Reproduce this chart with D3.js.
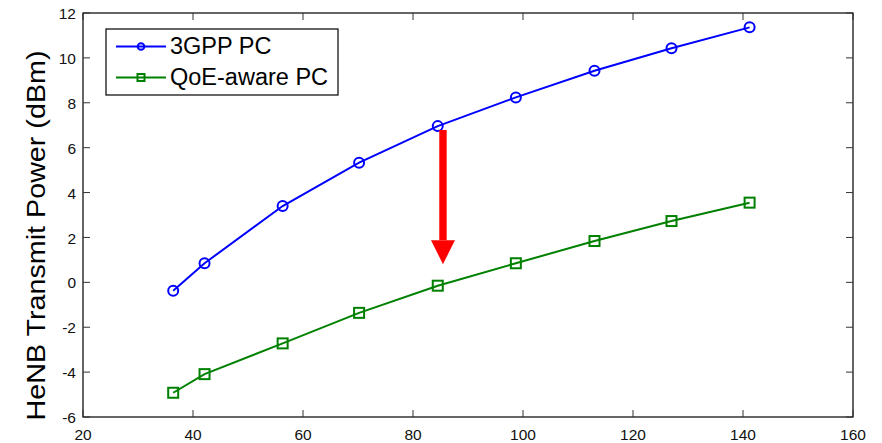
<!DOCTYPE html>
<html>
<head>
<meta charset="utf-8">
<script src="https://cdn.jsdelivr.net/npm/d3@7"></script>
<style>
  html, body { margin: 0; padding: 0; background: #fff; }
  svg { display: block; font-family: "Liberation Sans", Arial, Helvetica, sans-serif; }
</style>
</head>
<body>
<svg id="chart" width="882" height="443"></svg>
<script>
// Distance values shared by both series
const distance = [36.4, 42.1, 56.3, 70.2, 84.5, 98.7, 113.0, 127.0, 141.2];
// HeNB transmit power (dBm) for each scheme
const power3gpp = [-0.38, 0.85, 3.40, 5.33, 6.96, 8.24, 9.43, 10.43, 11.36];
const powerQoe  = [-4.92, -4.09, -2.72, -1.36, -0.15, 0.85, 1.84, 2.73, 3.55];
const seriesNames = ["3GPP PC", "QoE-aware PC"];
const xTicks = [20, 40, 60, 80, 100, 120, 140, 160];
const yTicks = [-6, -4, -2, 0, 2, 4, 6, 8, 10, 12];
// Red arrow showing the power reduction: x position, shaft top, head base, tip
const arrowX = [85.45];
const arrowLevels = [6.79, 1.88, 0.81];

const svg = d3.select("#chart");
const plotL = 83, plotR = 853, plotT = 13, plotB = 417;

const x = d3.scaleLinear().domain([20, 160]).range([plotL, plotR]);
const y = d3.scaleLinear().domain([-6, 12]).range([plotB, plotT]);

const tickLen = 7;
const tickColor = "#333";

// Frame
svg.append("rect")
  .attr("x", plotL).attr("y", plotT)
  .attr("width", plotR - plotL).attr("height", plotB - plotT)
  .attr("fill", "none").attr("stroke", "#000").attr("stroke-width", 1.2);

// Inward ticks on all four sides
const tickG = svg.append("g").attr("stroke", tickColor).attr("stroke-width", 1);
xTicks.forEach(t => {
  tickG.append("line").attr("x1", x(t)).attr("x2", x(t)).attr("y1", plotB).attr("y2", plotB - tickLen);
  tickG.append("line").attr("x1", x(t)).attr("x2", x(t)).attr("y1", plotT).attr("y2", plotT + tickLen);
});
yTicks.forEach(t => {
  tickG.append("line").attr("x1", plotL).attr("x2", plotL + tickLen).attr("y1", y(t)).attr("y2", y(t));
  tickG.append("line").attr("x1", plotR).attr("x2", plotR - tickLen).attr("y1", y(t)).attr("y2", y(t));
});

// Tick labels
svg.append("g").selectAll("text").data(xTicks).join("text")
  .attr("x", d => x(d)).attr("y", 439.5)
  .attr("text-anchor", "middle").attr("font-size", 15.5).attr("fill", "#111")
  .text(d => d);
svg.append("g").selectAll("text").data(yTicks).join("text")
  .attr("x", 76).attr("y", d => y(d) + 2)
  .attr("text-anchor", "end").attr("dominant-baseline", "middle")
  .attr("font-size", 15.5).attr("fill", "#111")
  .text(d => d);

// Y-axis title
svg.append("text")
  .attr("transform", "translate(45,235.5) rotate(-90)")
  .attr("text-anchor", "middle").attr("font-size", 26).attr("fill", "#000")
  .attr("textLength", 370).attr("lengthAdjust", "spacingAndGlyphs")
  .text("HeNB Transmit Power (dBm)");

// Series
const line = d3.line().x(d => x(d[0])).y(d => y(d[1]));
const blueData = distance.map((d, i) => [d, power3gpp[i]]);
const greenData = distance.map((d, i) => [d, powerQoe[i]]);

svg.append("path").datum(blueData).attr("d", line)
  .attr("fill", "none").attr("stroke", "#0000ff").attr("stroke-width", 2);
svg.append("g").selectAll("circle").data(blueData).join("circle")
  .attr("cx", d => x(d[0])).attr("cy", d => y(d[1])).attr("r", 5)
  .attr("fill", "none").attr("stroke", "#0000ff").attr("stroke-width", 2);

svg.append("path").datum(greenData).attr("d", line)
  .attr("fill", "none").attr("stroke", "#008000").attr("stroke-width", 2);
svg.append("g").selectAll("rect").data(greenData).join("rect")
  .attr("x", d => x(d[0]) - 5).attr("y", d => y(d[1]) - 5)
  .attr("width", 10).attr("height", 10)
  .attr("fill", "none").attr("stroke", "#008000").attr("stroke-width", 2);

// Arrow
const ax = x(arrowX[0]);
const shaftW = 7.4, headW = 24;
svg.append("rect")
  .attr("x", ax - shaftW / 2).attr("y", y(arrowLevels[0]))
  .attr("width", shaftW).attr("height", y(arrowLevels[1]) - y(arrowLevels[0]))
  .attr("fill", "#ff0000");
svg.append("path")
  .attr("d", `M${ax - headW / 2},${y(arrowLevels[1])} L${ax + headW / 2},${y(arrowLevels[1])} L${ax},${y(arrowLevels[2])} Z`)
  .attr("fill", "#ff0000");

// Legend
const lg = svg.append("g");
lg.append("rect").attr("x", 106).attr("y", 29).attr("width", 232).attr("height", 66)
  .attr("fill", "#fff").attr("stroke", "#000").attr("stroke-width", 1.2);
const colors = ["#0000ff", "#008000"];
seriesNames.forEach((name, i) => {
  const ly = 46.5 + i * 31;
  lg.append("line").attr("x1", 116).attr("x2", 166).attr("y1", ly).attr("y2", ly)
    .attr("stroke", colors[i]).attr("stroke-width", 2);
  if (i === 0) {
    lg.append("circle").attr("cx", 141).attr("cy", ly).attr("r", 3.3)
      .attr("fill", "none").attr("stroke", colors[i]).attr("stroke-width", 2);
  } else {
    lg.append("rect").attr("x", 137.5).attr("y", ly - 3.5).attr("width", 7).attr("height", 7)
      .attr("fill", "none").attr("stroke", colors[i]).attr("stroke-width", 2);
  }
  lg.append("text").attr("x", 170).attr("y", ly + 1).attr("dominant-baseline", "middle")
    .attr("font-size", 23.5).attr("fill", "#000").text(name);
});
</script>
</body>
</html>
